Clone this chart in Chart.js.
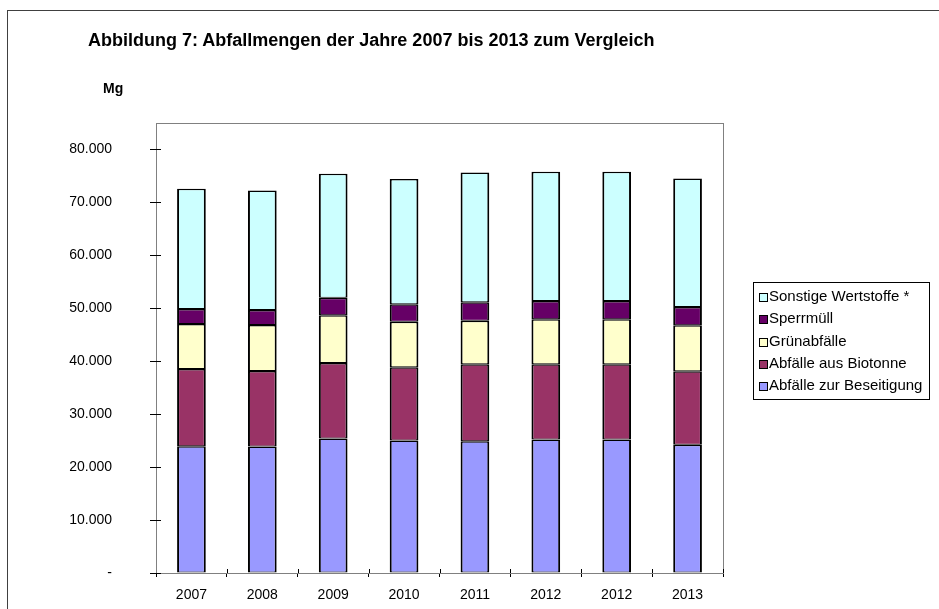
<!DOCTYPE html>
<html>
<head>
<meta charset="utf-8">
<script src="https://cdn.jsdelivr.net/npm/chart.js@4"></script>
<style>
  html, body { margin: 0; padding: 0; background: #fff; overflow: hidden; }
  body { width: 939px; height: 609px; position: relative; font-family: 'Liberation Sans', Arial, sans-serif; }
  #frame { position: absolute; left: 7px; top: 10px; width: 1000px; height: 1000px; border: 1px solid #404040; }
  #title { position: absolute; left: 88px; top: 31px; font-size: 18px; line-height: 18px; font-weight: bold; white-space: nowrap; color: #000; }
  #unit { position: absolute; left: 103px; top: 81px; font-size: 14px; line-height: 14px; font-weight: bold; color: #000; }
  #wrap { position: absolute; left: 0; top: 0; width: 939px; height: 609px; }
  canvas { display: block; }
</style>
</head>
<body>
<div id="frame"></div>
<div id="wrap"><canvas id="c" width="939" height="609"></canvas></div>
<div id="title">Abbildung 7: Abfallmengen der Jahre 2007 bis 2013 zum Vergleich</div>
<div id="unit">Mg</div>
<script>
'use strict';
// Abfallmengen 2007-2013, stacked, values in Mg

const years = ['2007', '2008', '2009', '2010', '2011', '2012', '2012', '2013'];
const beseitigung = [23960, 23890, 25400, 25020, 24900, 25210, 25210, 24210];
const biotonne    = [14590, 14280, 14280, 13850, 14530, 14220, 14220, 13900];
const gruen       = [8490, 8680, 9000, 8600, 8230, 8490, 8490, 8680];
const sperr       = [2830, 2830, 3320, 3280, 3470, 3460, 3460, 3460];
const sonstige    = [22700, 22580, 23400, 23650, 24530, 24400, 24400, 24280];
const yTicks = [0, 10000, 20000, 30000, 40000, 50000, 60000, 70000, 80000];

const FONT = "'Liberation Sans', Arial, sans-serif";

function fmtDe(v) {
  if (v === 0) return '-';
  return String(v).replace(/\B(?=(\d{3})+(?!\d))/g, '.');
}

function ds(label, data, color) {
  return { label, data, backgroundColor: color, borderColor: '#000',
    borderWidth: { left: 2, right: 2, top: 1.5, bottom: 1 }, borderSkipped: false,
    barPercentage: 0.405, categoryPercentage: 1 };
}

// grey plot frame (top/right), cross ticks and the boxed legend
const excelLook = {
  id: 'excelLook',
  beforeDatasetsDraw(chart) {
    const { ctx, chartArea: a } = chart;
    ctx.save();
    ctx.strokeStyle = '#808080';
    ctx.lineWidth = 1;
    ctx.strokeRect(a.left + 0.5, a.top + 0.5, a.right - a.left, a.bottom - a.top);
    ctx.restore();
  },
  afterDraw(chart) {
    const { ctx, chartArea: a, scales } = chart;
    ctx.save();
    ctx.strokeStyle = '#000';
    ctx.lineWidth = 1;
    // y ticks crossing the axis
    scales.y.ticks.forEach((t) => {
      const y = Math.round(scales.y.getPixelForValue(t.value)) + 0.5;
      ctx.beginPath(); ctx.moveTo(a.left - 6, y); ctx.lineTo(a.left + 5, y); ctx.stroke();
    });
    // inner part of the x ticks (between categories)
    const n = years.length, w = (a.right - a.left) / n;
    for (let i = 1; i <= n; i++) {
      const x = Math.round(a.left + i * w) + 0.5;
      ctx.beginPath(); ctx.moveTo(x, a.bottom - 4); ctx.lineTo(x, a.bottom); ctx.stroke();
    }
    // legend box
    const lx = 753, ly = 282, lw = 176, lh = 117;
    ctx.fillStyle = '#fff';
    ctx.fillRect(lx, ly, lw, lh);
    ctx.strokeRect(lx + 0.5, ly + 0.5, lw, lh);
    const items = chart.data.datasets.slice().reverse();
    ctx.font = '15px ' + FONT;
    ctx.textBaseline = 'middle';
    items.forEach((d, i) => {
      const cy = 297 + i * 22.3;
      const sy = Math.round(cy - 4) + 0.5;
      ctx.fillStyle = d.backgroundColor;
      ctx.fillRect(759.5, sy, 8, 8);
      ctx.strokeRect(759.5, sy, 8, 8);
      ctx.fillStyle = '#000';
      ctx.fillText(d.label, 769, cy);
    });
    ctx.restore();
  }
};

new Chart(document.getElementById('c').getContext('2d'), {
  type: 'bar',
  data: {
    labels: years,
    datasets: [
      ds('Abfälle zur Beseitigung', beseitigung, '#9999FF'),
      ds('Abfälle aus Biotonne', biotonne, '#993366'),
      ds('Grünabfälle', gruen, '#FFFFCC'),
      ds('Sperrmüll', sperr, '#660066'),
      ds('Sonstige Wertstoffe *', sonstige, '#CCFFFF'),
    ],
  },
  options: {
    responsive: false,
    animation: false,
    layout: { padding: { left: 0, top: 123, right: 216, bottom: 0 } },
    plugins: { legend: { display: false }, tooltip: { enabled: false }, title: { display: false } },
    scales: {
      x: {
        stacked: true,
        grid: { display: true, drawOnChartArea: false, drawTicks: true, tickLength: 4, color: '#000', offset: true },
        border: { display: true, color: '#000', width: 1 },
        ticks: { color: '#000', font: { family: FONT, size: 14 }, padding: 10, maxRotation: 0, autoSkip: false },
        afterFit(s) { s.height = 36; },
      },
      y: {
        stacked: true,
        min: 0, max: 85000,
        // long invisible ticks push the labels out; the visible cross ticks come from the plugin
        grid: { display: true, drawOnChartArea: false, drawTicks: true, tickLength: 44, tickColor: 'rgba(0,0,0,0)' },
        border: { display: true, color: '#000', width: 1 },
        ticks: { color: '#000', font: { family: FONT, size: 14 }, padding: 0, callback: (v) => fmtDe(v) },
        afterBuildTicks(s) { s.ticks = yTicks.map((v) => ({ value: v })); },
        afterFit(s) { s.width = 156; },
      },
    },
  },
  plugins: [excelLook],
});
</script>
</body>
</html>
